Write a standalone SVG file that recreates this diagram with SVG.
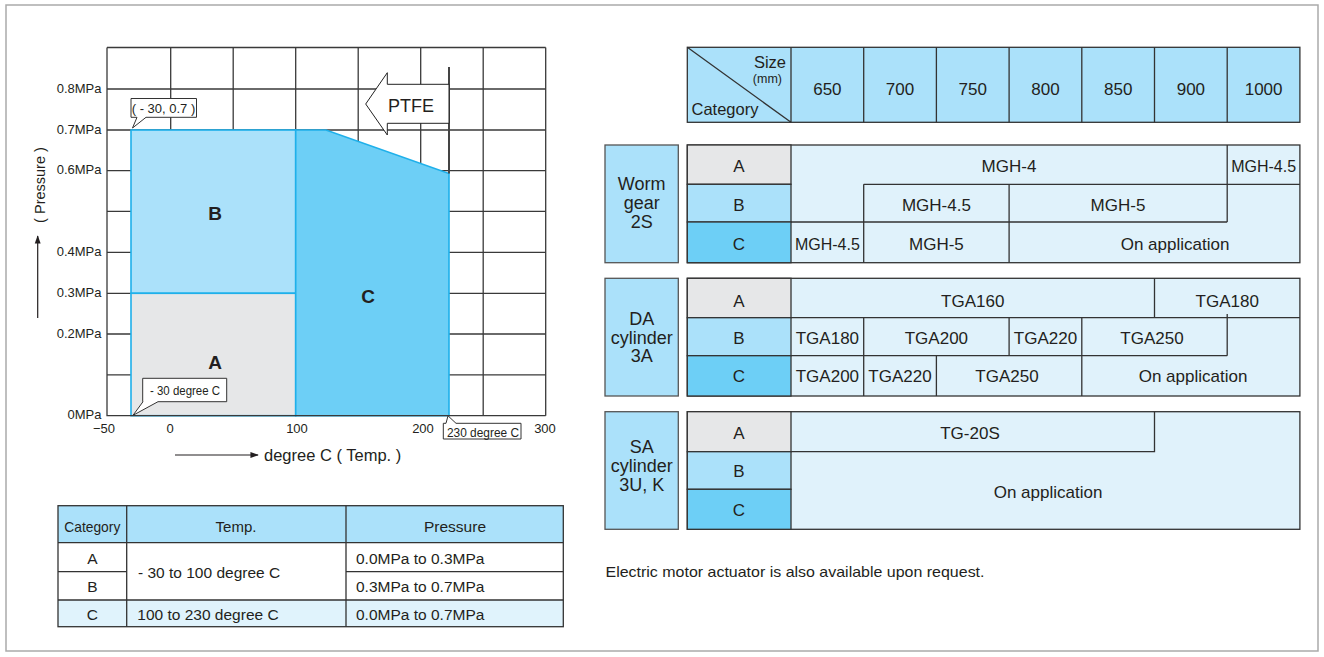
<svg xmlns="http://www.w3.org/2000/svg" width="1324" height="657" viewBox="0 0 1324 657">
<style>
.t{font-family:"Liberation Sans",Arial,Helvetica,sans-serif;fill:#231f20}
.m{text-anchor:middle}
.e{text-anchor:end}
.g{stroke:#3a3a3a;stroke-width:1.3;fill:none}
.ln{stroke:#333;stroke-width:1.3;fill:none}
.lbl{fill:#abe1fa;stroke:#555;stroke-width:1.3}
.dat{fill:#e0f2fb;stroke:#333;stroke-width:1.3}
.ca{fill:#e6e7e8;stroke:#333;stroke-width:1.3}
.cb{fill:#abe1fa;stroke:#333;stroke-width:1.3}
.cc{fill:#6dcff6;stroke:#333;stroke-width:1.3}
.box{fill:#fff;stroke:#333;stroke-width:1}
</style>
<defs>
<marker id="ah" viewBox="0 0 10 10" refX="9" refY="5" markerWidth="7" markerHeight="7" orient="auto"><path d="M0,1.5 L10,5 L0,8.5 Z" fill="#231f20"/></marker>
</defs>
<rect x="6" y="5" width="1312" height="646" fill="#fff" stroke="#aaa" stroke-width="1.5"/>

<g id="chart">
<g id="grid" class="g">
<path d="M107,47.5 H545.7 M107,89 H545.7 M107,130 H545.7 M107,170.7 H545.7 M107,211.3 H545.7 M107,252.3 H545.7 M107,293.3 H545.7 M107,334 H545.7 M107,374.8 H545.7"/>
<path d="M170.7,47.5 V415.7 M233.2,47.5 V415.7 M295.7,47.5 V415.7 M358.2,47.5 V415.7 M420.7,47.5 V415.7 M483.2,47.5 V415.7 M545.7,47.5 V415.7"/>
</g>
<g id="region-B"><rect x="131" y="130" width="164.7" height="163.3" fill="#abe1fa" stroke="#1fb0ea" stroke-width="1.6"/><text class="t m" x="215" y="220" font-size="19" font-weight="bold">B</text></g>
<g id="region-A"><rect x="131" y="293.3" width="164.7" height="122.4" fill="#e6e7e8" stroke="#1fb0ea" stroke-width="1.6"/><text class="t m" x="215" y="368.5" font-size="19" font-weight="bold">A</text></g>
<g id="region-C"><polygon points="295.7,130 326,130 449,173.5 449,415.7 295.7,415.7" fill="#6dcff6" stroke="#1fb0ea" stroke-width="1.6"/><text class="t m" x="368" y="302.7" font-size="19" font-weight="bold">C</text></g>
<path class="g" d="M107,47.5 V415.7 H545.7" stroke="#222"/>
<g id="ptfe">
<line x1="449" y1="67" x2="449" y2="173.5" stroke="#444" stroke-width="2"/>
<polygon points="365.7,104 387.3,72.7 387.3,84.3 449,84.3 449,123.3 387.3,123.3 387.3,135" fill="#fff" stroke="#222" stroke-width="1"/>
<text class="t m" x="411" y="111.5" font-size="18">PTFE</text>
</g>
<g id="callout-1">
<path class="box" d="M131,98.5 H196.5 V117.3 H146 L132.5,128 L137,117.3 H131 Z"/>
<text class="t m" x="163.5" y="113" font-size="13">( - 30, 0.7 )</text>
</g>
<g id="callout-2">
<path class="box" d="M142.7,378.3 H226.7 V401.7 H158 L133,415.3 L143,401.7 H142.7 Z"/>
<text class="t m" x="185" y="395" font-size="12.5" textLength="70" lengthAdjust="spacingAndGlyphs">- 30 degree C</text>
</g>
<g id="callout-3">
<path class="box" d="M443.3,423.3 H446 L448,415.8 L456,423.3 H521 V439 H443.3 Z"/>
<text class="t m" x="483" y="437" font-size="12.5" textLength="72" lengthAdjust="spacingAndGlyphs">230 degree C</text>
</g>
<g id="y-labels" font-size="13">
<text class="t e" x="101.5" y="92.5">0.8MPa</text>
<text class="t e" x="101.5" y="133.5">0.7MPa</text>
<text class="t e" x="101.5" y="174.2">0.6MPa</text>
<text class="t e" x="101.5" y="255.8">0.4MPa</text>
<text class="t e" x="101.5" y="296.8">0.3MPa</text>
<text class="t e" x="101.5" y="337.5">0.2MPa</text>
<text class="t e" x="101.5" y="419">0MPa</text>
</g>
<g id="x-labels" font-size="13">
<text class="t m" x="104" y="433">−50</text>
<text class="t m" x="170" y="433">0</text>
<text class="t m" x="297" y="433">100</text>
<text class="t m" x="423" y="433">200</text>
<text class="t m" x="545" y="433">300</text>
</g>
<g id="y-title">
<text class="t m" transform="translate(45,185) rotate(-90)" font-size="14.5">( Pressure )</text>
<line x1="37.7" y1="318" x2="37.7" y2="236" stroke="#231f20" stroke-width="1.2" marker-end="url(#ah)"/>
</g>
<g id="x-title">
<line x1="175" y1="455" x2="258" y2="455" stroke="#231f20" stroke-width="1.2" marker-end="url(#ah)"/>
<text class="t" x="264" y="460.5" font-size="16.5">degree C ( Temp. )</text>
</g>
</g>

<g id="legend-table">
<rect x="58" y="505.7" width="505.3" height="37" fill="#abe1fa"/>
<rect x="58" y="600" width="505.3" height="26.7" fill="#e0f3fc"/>
<rect x="58" y="505.7" width="505.3" height="121" class="ln"/>
<path class="ln" d="M58,542.7 H563.3 M58,571.7 H126.7 M346,571.7 H563.3 M58,600 H563.3 M126.7,505.7 V626.7 M346,505.7 V626.7"/>
<text class="t m" x="92.3" y="532" font-size="15" textLength="56" lengthAdjust="spacingAndGlyphs">Category</text>
<text class="t m" x="236" y="532" font-size="15">Temp.</text>
<text class="t m" x="455" y="532" font-size="15.5">Pressure</text>
<text class="t m" x="92.3" y="564" font-size="15.5">A</text>
<text class="t m" x="92.3" y="591.7" font-size="15.5">B</text>
<text class="t m" x="92.3" y="620" font-size="15.5">C</text>
<text class="t" x="138" y="578.3" font-size="15.5">- 30 to 100 degree C</text>
<text class="t" x="137.3" y="620" font-size="15.5">100 to 230 degree C</text>
<text class="t" x="356" y="564" font-size="15.5">0.0MPa to 0.3MPa</text>
<text class="t" x="356" y="591.7" font-size="15.5">0.3MPa to 0.7MPa</text>
<text class="t" x="356" y="620" font-size="15.5">0.0MPa to 0.7MPa</text>
</g>

<g id="size-header">
<rect x="687.3" y="47.3" width="612.6" height="75" fill="#abe1fa" stroke="#333" stroke-width="1.3"/>
<path class="ln" d="M687.3,47.3 L791,122.3 M791,47.3 V122.3 M863.7,47.3 V122.3 M936.4,47.3 V122.3 M1009.1,47.3 V122.3 M1081.8,47.3 V122.3 M1154.5,47.3 V122.3 M1227.2,47.3 V122.3"/>
<text class="t e" x="786" y="68" font-size="16.5">Size</text>
<text class="t e" x="782" y="83" font-size="12.5">(mm)</text>
<text class="t" x="691.5" y="115" font-size="16.5">Category</text>
<g font-size="17">
<text class="t m" x="827.4" y="95">650</text>
<text class="t m" x="900" y="95">700</text>
<text class="t m" x="972.7" y="95">750</text>
<text class="t m" x="1045.5" y="95">800</text>
<text class="t m" x="1118.2" y="95">850</text>
<text class="t m" x="1190.9" y="95">900</text>
<text class="t m" x="1263.6" y="95">1000</text>
</g>
</g>

<g id="worm-gear">
<rect class="lbl" x="605" y="145" width="73.3" height="117.7"/>
<text class="t m" x="641.7" y="190" font-size="18">Worm</text>
<text class="t m" x="641.7" y="209" font-size="18">gear</text>
<text class="t m" x="641.7" y="228" font-size="18">2S</text>
<rect class="dat" x="687.3" y="145" width="612.6" height="117.7"/>
<rect class="ca" x="687.3" y="145" width="103.7" height="39.3"/>
<rect class="cb" x="687.3" y="184.3" width="103.7" height="37.7"/>
<rect class="cc" x="687.3" y="222" width="103.7" height="40.7"/>
<path class="ln" d="M863.7,184.3 H1299.9 M1227.2,145 V222 M791,222 H1227.2 M863.7,184.3 V262.7 M1009.1,184.3 V262.7"/>
<g font-size="17">
<text class="t m" x="739" y="172">A</text>
<text class="t m" x="739" y="210.7">B</text>
<text class="t m" x="739" y="249.5">C</text>
<text class="t m" x="1009" y="172">MGH-4</text>
<text class="t m" x="1263.6" y="172" font-size="16">MGH-4.5</text>
<text class="t m" x="936.4" y="210.7">MGH-4.5</text>
<text class="t m" x="1118" y="210.7">MGH-5</text>
<text class="t m" x="827.4" y="249.5" font-size="16">MGH-4.5</text>
<text class="t m" x="936.4" y="249.5">MGH-5</text>
<text class="t m" x="1175" y="249.5">On application</text>
</g>
</g>

<g id="da-cylinder">
<rect class="lbl" x="605" y="278.3" width="73.3" height="117.7"/>
<text class="t m" x="641.7" y="325" font-size="18">DA</text>
<text class="t m" x="641.7" y="343.5" font-size="18">cylinder</text>
<text class="t m" x="641.7" y="362" font-size="18">3A</text>
<rect class="dat" x="687.3" y="278.3" width="612.6" height="117.7"/>
<rect class="ca" x="687.3" y="278.3" width="103.7" height="39.4"/>
<rect class="cb" x="687.3" y="317.7" width="103.7" height="38"/>
<rect class="cc" x="687.3" y="355.7" width="103.7" height="40.3"/>
<path class="ln" d="M791,317.7 H1299.9 M1154.5,278.3 V317.7 M863.7,317.7 V396 M1009.1,317.7 V355.7 M1081.8,317.7 V396 M1227.2,314 V355.7 M791,355.7 H1227.2 M936.4,355.7 V396"/>
<g font-size="17">
<text class="t m" x="739" y="307.3">A</text>
<text class="t m" x="739" y="344">B</text>
<text class="t m" x="739" y="382.3">C</text>
<text class="t m" x="972.7" y="307.3">TGA160</text>
<text class="t m" x="1227.2" y="307.3">TGA180</text>
<text class="t m" x="827.4" y="344">TGA180</text>
<text class="t m" x="936.4" y="344">TGA200</text>
<text class="t m" x="1045.5" y="344">TGA220</text>
<text class="t m" x="1152" y="344">TGA250</text>
<text class="t m" x="827.4" y="382.3">TGA200</text>
<text class="t m" x="900" y="382.3">TGA220</text>
<text class="t m" x="1007" y="382.3">TGA250</text>
<text class="t m" x="1193" y="382.3">On application</text>
</g>
</g>

<g id="sa-cylinder">
<rect class="lbl" x="605" y="411.7" width="73.3" height="117.6"/>
<text class="t m" x="641.7" y="453" font-size="18">SA</text>
<text class="t m" x="641.7" y="472" font-size="18">cylinder</text>
<text class="t m" x="641.7" y="491" font-size="18">3U, K</text>
<rect class="dat" x="687.3" y="411.7" width="612.6" height="117.6"/>
<rect class="ca" x="687.3" y="411.7" width="103.7" height="40"/>
<rect class="cb" x="687.3" y="451.7" width="103.7" height="37.6"/>
<rect class="cc" x="687.3" y="489.3" width="103.7" height="40"/>
<path class="ln" d="M791,451.7 H1154.5 V411.7"/>
<g font-size="17">
<text class="t m" x="739" y="439">A</text>
<text class="t m" x="739" y="477">B</text>
<text class="t m" x="739" y="516">C</text>
<text class="t m" x="970" y="439">TG-20S</text>
<text class="t m" x="1048" y="497.5">On application</text>
</g>
</g>
<text class="t" x="605.5" y="577" font-size="14.5" textLength="379" lengthAdjust="spacingAndGlyphs">Electric motor actuator is also available upon request.</text>
</svg>
